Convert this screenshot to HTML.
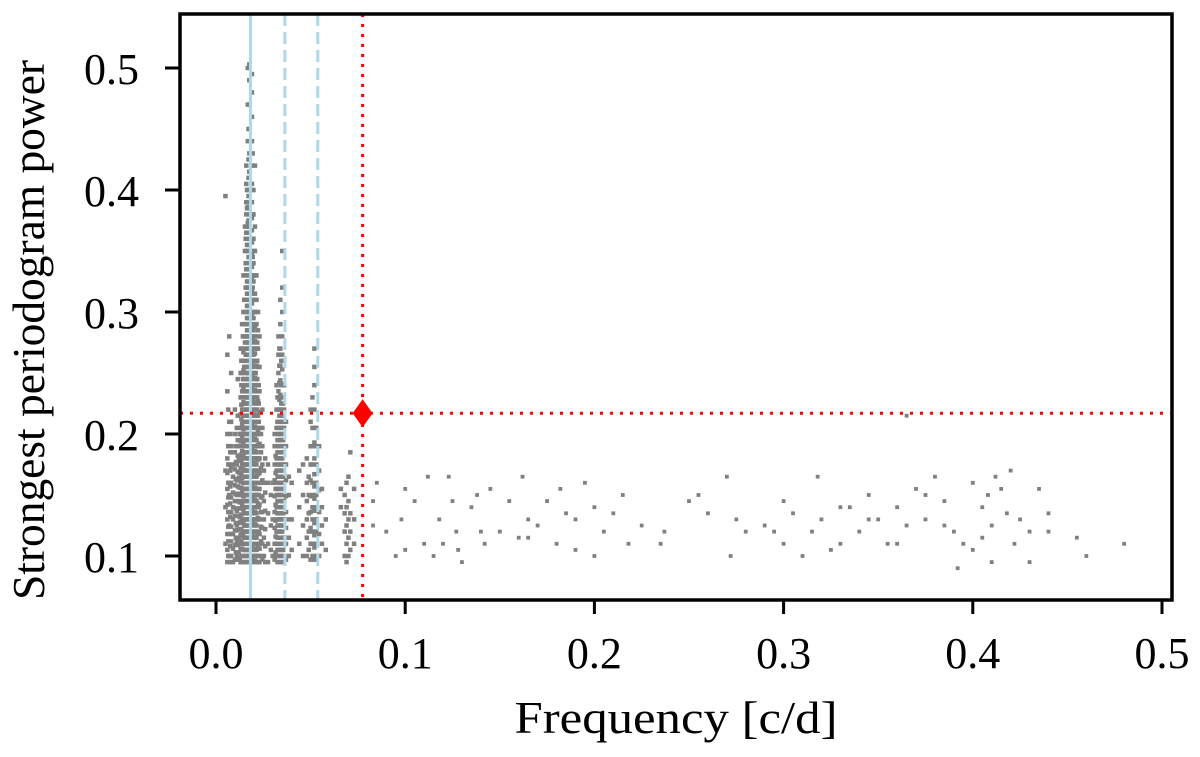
<!DOCTYPE html>
<html><head><meta charset="utf-8"><style>
body{margin:0;background:#fff}
svg text{font-family:"Liberation Serif",serif;fill:#000}
</style></head><body>
<svg id="chart" width="1200" height="752" xmlns="http://www.w3.org/2000/svg">
<rect x="0" y="0" width="1200" height="752" fill="#fff"/>
<g id="marks"></g>
<g id="overlays"></g>
<rect x="180" y="14" width="992" height="586" fill="none" stroke="#000" stroke-width="3.5"/>
<g id="axes"></g>
<text x="676" y="733" font-size="46" text-anchor="middle" textLength="323" lengthAdjust="spacingAndGlyphs">Frequency [c/d]</text>
<text transform="translate(44,330) rotate(-90)" font-size="46" text-anchor="middle" textLength="540" lengthAdjust="spacingAndGlyphs">Strongest periodogram power</text>
</svg>
<script>
const xTicks=[0.0,0.1,0.2,0.3,0.4,0.5];
const xTickLabels=["0.0","0.1","0.2","0.3","0.4","0.5"];
const yTicks=[0.1,0.2,0.3,0.4,0.5];
const yTickLabels=["0.1","0.2","0.3","0.4","0.5"];
const harmonicSolid=[0.0182];
const harmonicDashed=[0.0364,0.0538];
const markerFreq=[0.0775];
const markerPower=[0.217];
// dense clusters: [frequency, [powers...]]
const cluster1=[
[0.006,[0.095,0.105,0.118,0.13,0.142,0.155,0.168,0.18,0.2,0.235,0.265]],
[0.0065,[0.1,0.112,0.124,0.136,0.148,0.16,0.175,0.19,0.22]],
[0.005,[0.395,0.11,0.14,0.17]],
[0.007,[0.1,0.125,0.15,0.175,0.21,0.28]],
[0.0075,[0.095,0.108,0.118,0.132,0.143,0.157,0.17,0.185,0.2]],
[0.008,[0.1,0.112,0.124,0.136,0.148,0.16,0.173,0.19,0.21,0.25]],
[0.009,[0.095,0.106,0.118,0.13,0.14,0.152,0.165,0.175,0.185]],
[0.010,[0.097,0.109,0.121,0.133,0.145,0.158,0.171,0.185,0.2,0.22]],
[0.0105,[0.103,0.115,0.127,0.139,0.151,0.163,0.177,0.19]],
[0.011,[0.1,0.112,0.125,0.137,0.15,0.162,0.175,0.205]],
[0.0115,[0.097,0.109,0.121,0.133,0.145,0.157,0.169,0.182,0.195,0.215,0.245]],
[0.012,[0.103,0.115,0.127,0.139,0.151,0.164,0.178,0.19]],
[0.0125,[0.098,0.11,0.122,0.132,0.144,0.156,0.168,0.18,0.2]],
[0.013,[0.095,0.106,0.117,0.128,0.139,0.15,0.161,0.172,0.183,0.194,0.205,0.216,0.23,0.25,0.27]],
[0.0134,[0.1,0.112,0.122,0.134,0.145,0.156,0.167,0.178,0.19,0.2,0.212,0.224,0.24,0.26]],
[0.0138,[0.095,0.106,0.118,0.13,0.142,0.153,0.164,0.175,0.186,0.197,0.208,0.22,0.235,0.25,0.27,0.29]],
[0.0142,[0.1,0.11,0.12,0.13,0.14,0.15,0.16,0.17,0.18,0.19,0.2,0.21,0.22,0.23,0.245,0.26,0.28]],
[0.0145,[0.105,0.116,0.127,0.138,0.149,0.16,0.171,0.182,0.193,0.204,0.215,0.226,0.238,0.252,0.267,0.28,0.3,0.33]],
[0.0149,[0.095,0.105,0.115,0.125,0.135,0.145,0.155,0.165,0.175,0.185,0.195,0.205,0.215,0.225,0.235,0.245,0.255,0.27,0.29,0.31]],
[0.0153,[0.1,0.11,0.12,0.13,0.14,0.15,0.16,0.17,0.18,0.19,0.2,0.21,0.22,0.23,0.24,0.25,0.26,0.275,0.29,0.31,0.33,0.35,0.37]],
[0.0157,[0.095,0.105,0.115,0.125,0.135,0.145,0.155,0.165,0.175,0.185,0.195,0.205,0.215,0.225,0.235,0.245,0.255,0.265,0.28,0.3,0.32,0.34,0.36]],
[0.016,[0.1,0.11,0.12,0.13,0.14,0.15,0.16,0.17,0.18,0.19,0.2,0.21,0.22,0.23,0.24,0.25,0.26,0.27,0.28,0.29,0.3,0.31,0.32,0.335,0.35,0.365,0.38,0.39,0.405,0.42]],
[0.0164,[0.095,0.105,0.115,0.125,0.135,0.145,0.155,0.165,0.175,0.185,0.195,0.205,0.215,0.225,0.235,0.245,0.255,0.265,0.275,0.285,0.295,0.305,0.315,0.325,0.34,0.355,0.37,0.385,0.4]],
[0.0168,[0.1,0.11,0.12,0.13,0.14,0.15,0.16,0.17,0.18,0.19,0.2,0.21,0.22,0.23,0.24,0.25,0.26,0.27,0.28,0.29,0.3,0.31,0.32,0.33,0.34,0.35,0.36,0.373,0.386,0.4,0.44,0.47,0.5]],
[0.0172,[0.095,0.105,0.115,0.125,0.135,0.145,0.155,0.165,0.175,0.185,0.195,0.205,0.215,0.225,0.235,0.245,0.255,0.265,0.275,0.285,0.295,0.305,0.315,0.325,0.335,0.345,0.355,0.365,0.375,0.385,0.395,0.41,0.425,0.45]],
[0.0176,[0.1,0.11,0.12,0.13,0.14,0.15,0.16,0.17,0.18,0.19,0.2,0.21,0.22,0.23,0.24,0.25,0.26,0.27,0.28,0.29,0.3,0.31,0.32,0.33,0.34,0.35,0.36,0.37,0.38,0.39,0.4,0.415,0.43,0.45,0.47,0.49,0.503]],
[0.019,[0.097,0.107,0.117,0.127,0.137,0.147,0.157,0.167,0.177,0.187,0.197,0.207,0.217,0.227,0.237,0.247,0.257,0.267,0.277,0.287,0.297,0.307,0.317,0.327,0.337,0.347,0.357,0.367,0.377,0.39,0.405,0.42,0.44,0.46,0.48,0.495]],
[0.0194,[0.1,0.11,0.12,0.13,0.14,0.15,0.16,0.17,0.18,0.19,0.2,0.21,0.22,0.23,0.24,0.25,0.26,0.27,0.28,0.29,0.3,0.31,0.32,0.33,0.345,0.36,0.38,0.4,0.43]],
[0.0198,[0.095,0.105,0.115,0.125,0.135,0.145,0.155,0.165,0.175,0.185,0.195,0.205,0.215,0.225,0.235,0.245,0.255,0.265,0.275,0.285,0.295,0.31,0.325,0.34,0.36,0.38,0.4]],
[0.0202,[0.1,0.11,0.12,0.13,0.14,0.15,0.16,0.17,0.18,0.19,0.2,0.21,0.22,0.23,0.24,0.25,0.26,0.27,0.28,0.29,0.3,0.315,0.33,0.35]],
[0.0206,[0.096,0.106,0.116,0.126,0.136,0.146,0.156,0.166,0.176,0.186,0.196,0.206,0.216,0.226,0.236,0.246,0.256,0.266,0.276,0.288,0.3,0.315,0.33,0.35,0.37,0.42]],
[0.021,[0.1,0.11,0.12,0.13,0.14,0.15,0.16,0.17,0.18,0.19,0.2,0.21,0.22,0.23,0.24,0.25,0.26,0.27,0.28,0.3]],
[0.0214,[0.095,0.105,0.115,0.125,0.135,0.145,0.155,0.165,0.175,0.185,0.195,0.205,0.215,0.225,0.235,0.245,0.256,0.27,0.29,0.31,0.33]],
[0.0218,[0.1,0.11,0.12,0.13,0.14,0.15,0.16,0.17,0.18,0.19,0.2,0.21,0.22,0.23,0.245,0.26,0.275]],
[0.0222,[0.095,0.107,0.119,0.131,0.143,0.155,0.167,0.179,0.191,0.203,0.215,0.227,0.24,0.255,0.27,0.285,0.3]],
[0.0226,[0.1,0.11,0.12,0.13,0.14,0.15,0.16,0.17,0.18,0.19,0.2,0.21,0.225,0.24]],
[0.023,[0.095,0.106,0.118,0.13,0.142,0.155,0.168,0.18,0.192,0.205,0.218,0.235,0.255,0.28]],
[0.0238,[0.1,0.112,0.124,0.136,0.148,0.16,0.172,0.185,0.2]],
[0.0245,[0.097,0.11,0.123,0.136,0.149,0.162,0.175,0.19,0.205,0.22]],
[0.0253,[0.1,0.115,0.13,0.145,0.16,0.17]],
[0.026,[0.095,0.108,0.122,0.137,0.152,0.18]],
[0.0275,[0.095,0.11,0.135,0.16,0.175]],
[0.029,[0.105,0.125,0.15]]
];
const cluster2=[
[0.030,[0.1,0.13,0.16]],
[0.031,[0.097,0.11,0.123,0.136,0.149,0.162,0.175,0.19,0.2]],
[0.0315,[0.103,0.116,0.129,0.142,0.155,0.168,0.182]],
[0.032,[0.1,0.11,0.12,0.13,0.14,0.15,0.16,0.17,0.18,0.19,0.205,0.22,0.24]],
[0.0325,[0.095,0.105,0.115,0.125,0.135,0.145,0.155,0.165,0.175,0.185,0.195,0.21,0.23]],
[0.033,[0.1,0.11,0.12,0.13,0.14,0.15,0.16,0.17,0.18,0.19,0.2,0.21,0.22,0.235,0.25,0.265,0.28]],
[0.0335,[0.095,0.105,0.115,0.125,0.135,0.145,0.155,0.165,0.175,0.185,0.195,0.205,0.215,0.228,0.242,0.256,0.27]],
[0.034,[0.1,0.11,0.12,0.13,0.14,0.15,0.16,0.17,0.18,0.19,0.2,0.21,0.22,0.232,0.244,0.256,0.27,0.29,0.31]],
[0.0345,[0.095,0.105,0.115,0.125,0.135,0.145,0.155,0.165,0.175,0.185,0.195,0.205,0.215,0.225,0.24,0.26]],
[0.035,[0.1,0.11,0.12,0.13,0.14,0.15,0.16,0.17,0.18,0.19,0.2,0.21,0.22,0.23,0.241,0.253,0.265,0.28,0.3,0.32,0.35]],
[0.0355,[0.095,0.105,0.115,0.125,0.135,0.145,0.155,0.165,0.175,0.185,0.195,0.21,0.225]],
[0.036,[0.1,0.115,0.13,0.145,0.16,0.175,0.19,0.205,0.22,0.24,0.26]],
[0.037,[0.097,0.11,0.123,0.136,0.149,0.162,0.175,0.19,0.21]],
[0.0385,[0.1,0.115,0.13,0.15,0.165]],
[0.040,[0.105,0.13,0.16]]
];
const cluster3=[
[0.044,[0.11,0.14,0.17]],
[0.046,[0.1,0.125,0.15,0.175]],
[0.048,[0.1,0.115,0.13,0.145,0.16,0.18]],
[0.049,[0.105,0.12,0.135,0.15,0.165]],
[0.050,[0.097,0.11,0.123,0.136,0.149,0.162,0.175,0.19,0.21,0.22]],
[0.051,[0.1,0.11,0.12,0.13,0.14,0.15,0.16,0.175,0.19,0.205,0.23]],
[0.052,[0.097,0.107,0.117,0.127,0.137,0.147,0.157,0.167,0.18,0.193,0.205,0.22,0.24,0.255,0.27]],
[0.053,[0.1,0.11,0.12,0.13,0.14,0.15,0.16,0.175,0.19,0.205]],
[0.0545,[0.1,0.118,0.136,0.154,0.17,0.19]],
[0.056,[0.11,0.125,0.14,0.155]],
[0.058,[0.105,0.13]]
];
const cluster4=[
[0.066,[0.14,0.155]],
[0.068,[0.1,0.12,0.135,0.15]],
[0.069,[0.095,0.11,0.125,0.14,0.16]],
[0.070,[0.1,0.115,0.13,0.145,0.165]],
[0.071,[0.105,0.12,0.135,0.185]],
[0.073,[0.11,0.13,0.155]]
];
const sparseFreq=[0.083,0.083,0.085,0.09,0.095,0.1,0.1,0.105,0.11,0.112,0.118,0.12,0.123,0.125,0.127,0.128,0.13,0.135,0.138,0.14,0.145,0.15,0.155,0.16,0.162,0.165,0.17,0.175,0.18,0.182,0.185,0.19,0.195,0.2,0.205,0.21,0.215,0.218,0.225,0.235,0.237,0.255,0.26,0.27,0.272,0.275,0.29,0.295,0.3,0.305,0.31,0.315,0.318,0.32,0.325,0.33,0.335,0.34,0.345,0.35,0.355,0.36,0.365,0.365,0.37,0.375,0.38,0.385,0.39,0.392,0.395,0.4,0.405,0.41,0.412,0.415,0.418,0.42,0.422,0.425,0.43,0.435,0.44,0.455,0.46,0.48,0.375,0.345,0.4,0.41,0.408,0.385,0.25,0.19,0.142,0.115,0.098,0.36,0.44,0.405,0.43,0.33,0.3,0.28,0.2,0.165];
const sparsePower=[0.145,0.125,0.16,0.12,0.1,0.105,0.155,0.145,0.11,0.165,0.13,0.11,0.165,0.145,0.12,0.105,0.095,0.14,0.15,0.12,0.155,0.12,0.145,0.115,0.165,0.13,0.125,0.145,0.11,0.155,0.135,0.13,0.16,0.14,0.12,0.135,0.15,0.11,0.125,0.11,0.12,0.15,0.135,0.165,0.1,0.13,0.125,0.12,0.145,0.135,0.1,0.12,0.165,0.13,0.105,0.11,0.14,0.12,0.15,0.13,0.11,0.14,0.215,0.125,0.155,0.13,0.165,0.145,0.12,0.09,0.11,0.16,0.14,0.125,0.165,0.155,0.135,0.17,0.11,0.13,0.095,0.155,0.12,0.115,0.1,0.11,0.15,0.13,0.105,0.095,0.15,0.125,0.145,0.105,0.11,0.1,0.13,0.11,0.135,0.115,0.12,0.14,0.11,0.12,0.1,0.115];

const NS="http://www.w3.org/2000/svg";
const X=f=>216+f*1892;
const Y=p=>556-(p-0.1)*1220;
const marks=document.getElementById('marks');
const ov=document.getElementById('overlays');
const axes=document.getElementById('axes');
function dot(f,p,s){
  const r=document.createElementNS(NS,'rect');
  r.setAttribute('x',X(f)-s/2);r.setAttribute('y',Y(p)-s/2);
  r.setAttribute('width',s);r.setAttribute('height',s);
  r.setAttribute('fill','#808080');
  
  
  marks.appendChild(r);
}
[cluster1,cluster2,cluster3,cluster4].forEach(c=>c.forEach(([f,ps])=>ps.forEach(p=>dot(f,p,4.5))));
sparseFreq.forEach((f,i)=>dot(f,sparsePower[i],3.8));
function line(x1,y1,x2,y2,col,w,dash,name){
  const l=document.createElementNS(NS,'line');
  l.setAttribute('x1',x1);l.setAttribute('y1',y1);l.setAttribute('x2',x2);l.setAttribute('y2',y2);
  l.setAttribute('stroke',col);l.setAttribute('stroke-width',w);
  if(dash)l.setAttribute('stroke-dasharray',dash);
  
  
  return l;
}
harmonicSolid.forEach(f=>ov.appendChild(line(X(f),14,X(f),600,'#add8e6',3,null,'fundamental-frequency-line')));
harmonicDashed.forEach(f=>ov.appendChild(line(X(f),14,X(f),600,'#add8e6',3,'12,6','harmonic-frequency-line')));
markerFreq.forEach((f,i)=>{
  ov.appendChild(line(X(f),14,X(f),600,'#ff0000',3,'3,7','selected-frequency-line'));
  ov.appendChild(line(180,Y(markerPower[i]),1172,Y(markerPower[i]),'#ff0000',3,'3,7','selected-power-line'));
  const d=document.createElementNS(NS,'polygon');
  const cx=X(f),cy=Y(markerPower[i]);
  d.setAttribute('points',`${cx},${cy-14} ${cx+10},${cy} ${cx},${cy+14} ${cx-10},${cy}`);
  d.setAttribute('fill','#ff0000');
  
  
  ov.appendChild(d);
});
xTicks.forEach((v,i)=>{
  axes.appendChild(line(X(v),600,X(v),614,'#000',3,null,'x-tick'));
  const t=document.createElementNS(NS,'text');
  t.setAttribute('x',X(v));t.setAttribute('y',668);t.setAttribute('font-size','44');t.setAttribute('text-anchor','middle');
  t.textContent=xTickLabels[i];
  
  
  axes.appendChild(t);
});
yTicks.forEach((v,i)=>{
  axes.appendChild(line(165,Y(v),180,Y(v),'#000',3,null,'y-tick'));
  const t=document.createElementNS(NS,'text');
  t.setAttribute('x',139);t.setAttribute('y',Y(v)+16);t.setAttribute('font-size','44');t.setAttribute('text-anchor','end');
  t.textContent=yTickLabels[i];
  
  
  axes.appendChild(t);
});
</script>
</body></html>
